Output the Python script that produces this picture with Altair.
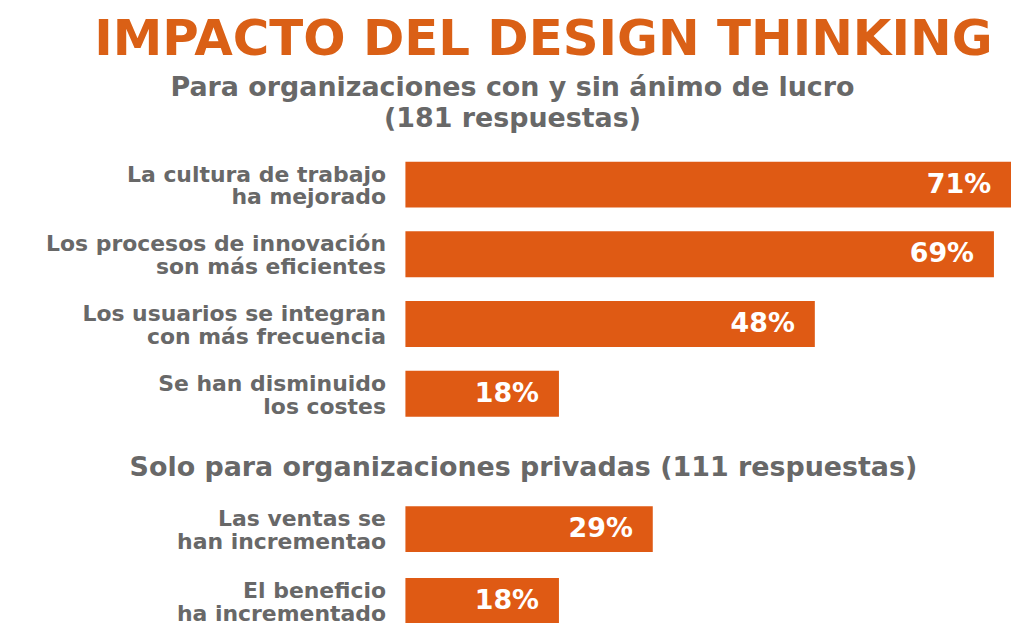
import altair as alt
import pandas as pd

# Data
cats1 = ["La cultura de trabajo|ha mejorado",
         "Los procesos de innovación|son más eficientes",
         "Los usuarios se integran|con más frecuencia",
         "Se han disminuido|los costes"]
vals1 = [71, 69, 48, 18]
cats2 = ["Las ventas se|han incrementao",
         "El beneficio|ha incrementado"]
vals2 = [29, 18]

title_main = "IMPACTO DEL DESIGN THINKING"
sub1 = ["Para organizaciones con y sin ánimo de lucro", "(181 respuestas)"]
sub2 = "Solo para organizaciones privadas (111 respuestas)"

FONT = "DejaVu Sans"
BAR = "#DF5A14"
TITLE_C = "#DA6016"
GRAY = "#686868"
PLOT_W = 608
XMAX = 71


def panel(cats, vals, sub, height, pad_inner, sub_dx, sub_offset):
    df = pd.DataFrame({"cat": cats, "val": vals})
    df["lbl"] = df["val"].astype(str) + "%"
    base = alt.Chart(df).encode(
        y=alt.Y("cat:N", sort=None,
                scale=alt.Scale(paddingInner=pad_inner, paddingOuter=pad_inner / 2),
                axis=alt.Axis(title=None, domain=False, ticks=False, tickSize=0,
                              labelPadding=20, labelFontSize=22,
                              labelFont=FONT, labelFontWeight="bold",
                              labelColor=GRAY, labelLimit=400,
                              labelLineHeight=23, labelOffset=-10,
                              minExtent=399, maxExtent=399,
                              labelExpr="split(datum.label, '|')")),
    )
    x = alt.X("val:Q", scale=alt.Scale(domain=[0, XMAX], nice=False, zero=True),
              axis=None)
    bars = base.mark_bar(color=BAR).encode(x=x)
    text = base.mark_text(align="right", baseline="middle", dx=-20,
                          color="white", font=FONT, fontWeight="bold",
                          fontSize=27).encode(x=x, text="lbl:N")
    return alt.layer(bars, text).properties(
        width=PLOT_W, height=height,
        title=alt.TitleParams(sub, fontSize=27, font=FONT, fontWeight="bold",
                              color=GRAY, anchor="middle", frame="bounds",
                              lineHeight=31, offset=sub_offset, dx=sub_dx),
    )


p1 = panel(cats1, vals1, sub1, 280, 24 / 70, 3, 17)
p2 = panel(cats2, vals2, sub2, 144, 26 / 72, 14, 11)

chart = alt.vconcat(p1, p2, spacing=26).properties(
    title=alt.TitleParams(title_main, fontSize=50, font=FONT, fontWeight="bold",
                          color=TITLE_C, anchor="middle", offset=9, dx=34),
    padding={"left": 0, "right": 0, "top": 6, "bottom": 0},
).configure_view(stroke=None)

chart.save("out.html", embed_options={"renderer": "svg", "actions": False})
